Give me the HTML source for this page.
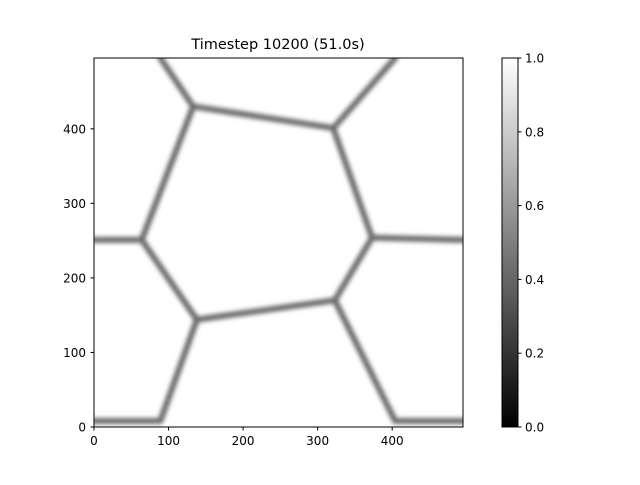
<!DOCTYPE html>
<html><head><meta charset="utf-8"><style>
body{margin:0;background:#fff;font-family:"Liberation Sans","DejaVu Sans",sans-serif}
svg text{font-family:"DejaVu Sans","Liberation Sans",sans-serif;font-size:12px;fill:#000}
</style></head><body>
<svg width="640" height="480" xmlns="http://www.w3.org/2000/svg">
<defs>
<filter id="blur" x="-10%" y="-10%" width="120%" height="120%"><feGaussianBlur stdDeviation="2.2"/></filter>
<clipPath id="clip"><rect x="94" y="58" width="369" height="369"/></clipPath>
<linearGradient id="cbar" x1="0" y1="1" x2="0" y2="0"><stop offset="0" stop-color="#000"/><stop offset="1" stop-color="#fff"/></linearGradient>
</defs>
<text x="278" y="49" text-anchor="middle" style="font-size:14.5px">Timestep 10200 (51.0s)</text>
<rect x="94" y="58" width="369" height="369" fill="#fff"/>
<g id="marks" clip-path="url(#clip)"><g filter="url(#blur)" id="lines"></g></g>
<rect x="94" y="58" width="369" height="369" fill="none" stroke="#000" stroke-width="1"/>
<g id="axes"></g>
<rect x="502" y="58" width="16" height="369" fill="url(#cbar)" stroke="#000" stroke-width="1"/>
<g id="cbticks"></g>
</svg>
<script>
const nodeNames=["A","B","TL","TR","C","R","D","E","F","L","BL","BLc","BRc","BR"];
const nodeX=[133,321,89,404,373,495,323,138,64,0,0,89,404,495];
const nodeY=[430,401,495,495,254,251,170,144,251,251,8,8,8,8];
const segFrom=["A","A","B","B","C","C","D","E","F","F","E","BLc","D","BRc"];
const segTo=["B","TL","TR","C","R","D","E","F","L","A","BLc","BL","BRc","BR"];
const xTicks=[0,100,200,300,400];
const yTicks=[0,100,200,300,400];
const cbTicks=[0.0,0.2,0.4,0.6,0.8,1.0];
const X0=94,Y0=427,S=369/495;
const sx=v=>X0+v*S, sy=v=>Y0-v*S;
const NS="http://www.w3.org/2000/svg";
const lines=document.getElementById('lines');
segFrom.forEach((f,i)=>{
  const a=nodeNames.indexOf(f), b=nodeNames.indexOf(segTo[i]);
  const l=document.createElementNS(NS,'line');
  
  
  l.setAttribute('x1',sx(nodeX[a]));l.setAttribute('y1',sy(nodeY[a]));
  l.setAttribute('x2',sx(nodeX[b]));l.setAttribute('y2',sy(nodeY[b]));
  l.setAttribute('stroke','#6a6a6a');l.setAttribute('stroke-width','6');l.setAttribute('stroke-linecap','round');
  lines.appendChild(l);
});
const ax=document.getElementById('axes');
function tick(x1,y1,x2,y2){const t=document.createElementNS(NS,'line');


t.setAttribute('x1',x1);t.setAttribute('y1',y1);t.setAttribute('x2',x2);t.setAttribute('y2',y2);t.setAttribute('stroke','#000');return t;}
function label(x,y,s,anchor){const t=document.createElementNS(NS,'text');


t.setAttribute('x',x);t.setAttribute('y',y);t.setAttribute('text-anchor',anchor);t.textContent=s;return t;}
xTicks.forEach(v=>{ax.appendChild(tick(sx(v),427,sx(v),430.5));ax.appendChild(label(sx(v),445,String(v),'middle'));});
yTicks.forEach(v=>{ax.appendChild(tick(90.5,sy(v),94,sy(v)));ax.appendChild(label(86,sy(v)+4.5,String(v),'end'));});
const cb=document.getElementById('cbticks');
cbTicks.forEach(v=>{const y=427-v*369;cb.appendChild(tick(518,y,521.5,y));cb.appendChild(label(525,y+4.5,v.toFixed(1),'start'));});
</script>
</body></html>
